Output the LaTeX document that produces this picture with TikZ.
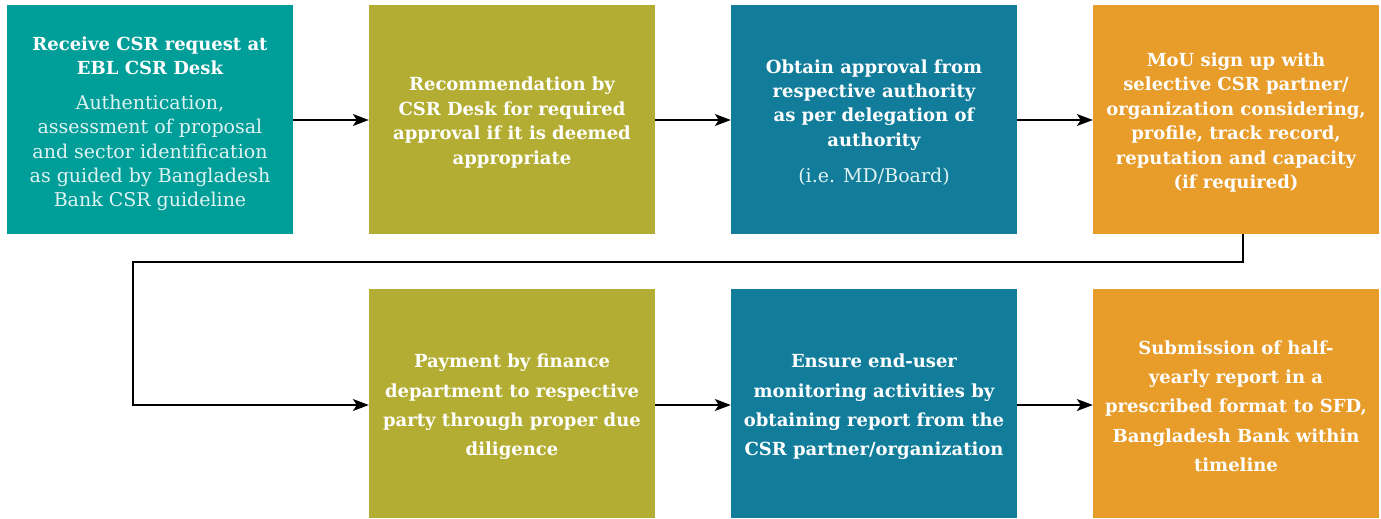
\documentclass[tikz,border=0pt]{standalone}
\usepackage{fontspec}
\setmainfont{DejaVu Serif}
\usetikzlibrary{arrows.meta}
\definecolor{cteal}{HTML}{009E98}
\definecolor{colive}{HTML}{B3AE33}
\definecolor{cblue}{HTML}{127D9B}
\definecolor{corange}{HTML}{E89C2A}
\tikzset{
  box/.style={rectangle, minimum width=286pt, minimum height=229pt, inner sep=0pt},
  txt/.style={inner sep=0pt, text=white, align=center, font=\fontsize{18}{24.4}\selectfont\bfseries},
  txttwo/.style={txt, font=\fontsize{18}{29.3}\selectfont\bfseries},
  arr/.style={-{Stealth[length=16pt,width=12pt,inset=4pt]}, line width=1.3pt, black}
}
\newcommand{\lt}[1]{{\mdseries\fontsize{19}{24}\selectfont\color{white!88!cteal}#1}}
\begin{document}
\begin{tikzpicture}[x=1pt,y=-1pt]
\useasboundingbox (0,0) rectangle (1381,519);
\node[box, fill=cteal] (b1) at (150,119.5) {};
\node[box, fill=colive] (b2) at (512,119.5) {};
\node[box, fill=cblue] (b3) at (874,119.5) {};
\node[box, fill=corange] (b4) at (1236,119.5) {};
\node[box, fill=colive] (b5) at (512,403.5) {};
\node[box, fill=cblue] (b6) at (874,403.5) {};
\node[box, fill=corange] (b7) at (1236,403.5) {};
\node[txt] (t1) at ([yshift=-4.5pt]b1.center) {Receive CSR request at\\EBL CSR Desk\\[10pt]
  \lt{Authentication,}\\ \lt{assessment of proposal}\\ \lt{and sector identification}\\ \lt{as guided by Bangladesh}\\ \lt{Bank CSR guideline}};
\node[txt] (t2) at ([yshift=-3pt]b2.center) {Recommendation by\\CSR Desk for required\\approval if it is deemed\\appropriate};
\node[txt] (t3) at ([yshift=-3pt]b3.center) {Obtain approval from\\respective authority\\as per delegation of\\authority\\[12pt]\lt{(i.e. MD/Board)}};
\node[txt] (t4) at ([yshift=-3pt]b4.center) {MoU sign up with\\selective CSR partner/\\organization considering,\\profile, track record,\\reputation and capacity\\(if required)};
\node[txttwo] (t5) at ([yshift=-3.5pt]b5.center) {Payment by finance\\department to respective\\party through proper due\\diligence};
\node[txttwo] (t6) at ([yshift=-3.5pt]b6.center) {Ensure end-user\\monitoring activities by\\obtaining report from the\\CSR partner/organization};
\node[txttwo] (t7) at ([yshift=-2.5pt]b7.center) {Submission of half-\\yearly report in a\\prescribed format to SFD,\\Bangladesh Bank within\\timeline};
\coordinate (r1) at (0,120);
\draw[arr] (b1.east |- r1) -- (r1 -| b2.west);
\draw[arr] (b2.east |- r1) -- (r1 -| b3.west);
\draw[arr] (b3.east |- r1) -- (r1 -| b4.west);
\coordinate (c1) at (1243,262);
\coordinate (c2) at (133,262);
\coordinate (c3) at (133,405);
\draw[arr] (b4.south -| c1) -- (c1) -- (c2) -- (c3) -- (c3 -| b5.west);
\draw[arr] (b5.east |- c3) -- (c3 -| b6.west);
\draw[arr] (b6.east |- c3) -- (c3 -| b7.west);
\end{tikzpicture}
\end{document}
